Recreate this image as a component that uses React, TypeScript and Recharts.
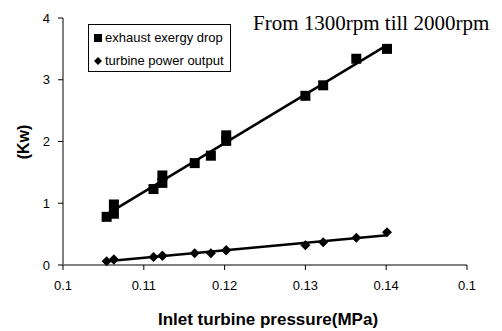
import React from "react";
import { ComposedChart, Scatter, XAxis, YAxis } from "recharts";

// inlet pressure (MPa) for each measured point
const pressure = [0.1054, 0.1063, 0.1063, 0.1112, 0.1123, 0.1123, 0.1163, 0.1183, 0.1202, 0.1202, 0.13, 0.1322, 0.1363, 0.1401];
const exergyDrop = [0.78, 0.83, 0.98, 1.23, 1.33, 1.45, 1.65, 1.77, 2.01, 2.1, 2.74, 2.91, 3.34, 3.5];
const powerOut = [0.06, 0.09, 0.09, 0.13, 0.15, 0.15, 0.19, 0.19, 0.24, 0.24, 0.32, 0.37, 0.44, 0.53];

const xTicks = [0.1, 0.11, 0.12, 0.13, 0.14, 0.15];
const xTickLabels = ["0.1", "0.11", "0.12", "0.13", "0.14", "0.1"];
const yTicks = [0, 1, 2, 3, 4];
const seriesNames = ["exhaust exergy drop", "turbine power output"];

const FONT = "'Liberation Sans', Arial, sans-serif";

const pts = (ys: number[]) => pressure.map((x, i) => ({ x, y: ys[i] }));

// linear least-squares trendline over the data range
function trend(ys: number[]) {
  const n = pressure.length;
  const mx = pressure.reduce((a, b) => a + b, 0) / n;
  const my = ys.reduce((a, b) => a + b, 0) / n;
  let sxy = 0, sxx = 0;
  pressure.forEach((x, i) => { sxy += (x - mx) * (ys[i] - my); sxx += (x - mx) ** 2; });
  const k = sxy / sxx;
  const x0 = Math.min(...pressure), x1 = Math.max(...pressure);
  return [x0, x1].map(x => ({ x, y: my + k * (x - mx) }));
}

const Square = (p: any) => <rect x={p.cx - 5} y={p.cy - 5} width={10} height={10} fill="#000" />;
const Diamond = (p: any) => (
  <polygon points={`${p.cx},${p.cy - 5} ${p.cx + 5},${p.cy} ${p.cx},${p.cy + 5} ${p.cx - 5},${p.cy}`} fill="#000" />
);
const NoDot = () => <g />;

export default function App() {
  return (
    <div style={{ position: "absolute", left: 0, top: 0, width: 502, height: 331, background: "#fff", fontFamily: FONT }}>
      <ComposedChart width={502} height={331} margin={{ top: 18, right: 35, bottom: 36, left: 23 }}>
        <XAxis
          type="number" dataKey="x" domain={[0.1, 0.15]} ticks={xTicks}
          tickFormatter={(_v, i) => xTickLabels[i]}
          height={30} stroke="#000" tickSize={5} tickMargin={11}
          tick={{ fill: "#000", fontSize: 13, fontFamily: FONT }}
        />
        <YAxis
          type="number" dataKey="y" domain={[0, 4]} ticks={yTicks} width={40}
          axisLine={{ stroke: "#808080", strokeWidth: 2 }} tickLine={{ stroke: "#000" }} tickSize={5} tickMargin={8}
          tick={{ fill: "#000", fontSize: 13, fontFamily: FONT }}
        />
        <Scatter data={trend(exergyDrop)} line={{ stroke: "#000", strokeWidth: 2.5 }} shape={NoDot} isAnimationActive={false} />
        <Scatter data={trend(powerOut)} line={{ stroke: "#000", strokeWidth: 2.5 }} shape={NoDot} isAnimationActive={false} />
        <Scatter name={seriesNames[0]} data={pts(exergyDrop)} shape={Square} isAnimationActive={false} />
        <Scatter name={seriesNames[1]} data={pts(powerOut)} shape={Diamond} isAnimationActive={false} />
      </ComposedChart>

      <div style={{ position: "absolute", left: 253, top: 13, fontFamily: "'Liberation Serif', 'Times New Roman', serif", fontSize: 21, lineHeight: 1, whiteSpace: "nowrap" }}>
        From 1300rpm till 2000rpm
      </div>

      <div style={{ position: "absolute", left: 88, top: 24, width: 143, height: 48, border: "1px solid #000", fontSize: 13, lineHeight: "23px", paddingTop: 1, boxSizing: "border-box" }}>
        {seriesNames.map((n, i) => (
          <div key={n} style={{ display: "flex", alignItems: "center", paddingLeft: 4, whiteSpace: "nowrap" }}>
            <svg width={11} height={10} style={{ marginRight: 1 }}>
              {i === 0 ? <rect x={1} y={1} width={8} height={8} fill="#000" /> : <polygon points="5,1 9,5 5,9 1,5" fill="#000" />}
            </svg>
            {n}
          </div>
        ))}
      </div>

      <div style={{ position: "absolute", left: 24, top: 142, transform: "translate(-50%,-50%) rotate(-90deg)", fontWeight: 700, fontSize: 16, lineHeight: 1, whiteSpace: "nowrap" }}>
        (Kw)
      </div>

      <div style={{ position: "absolute", left: 268, top: 319, transform: "translate(-50%,-50%)", fontWeight: 700, fontSize: 17, lineHeight: 1, whiteSpace: "nowrap" }}>
        Inlet turbine pressure(MPa)
      </div>
    </div>
  );
}
